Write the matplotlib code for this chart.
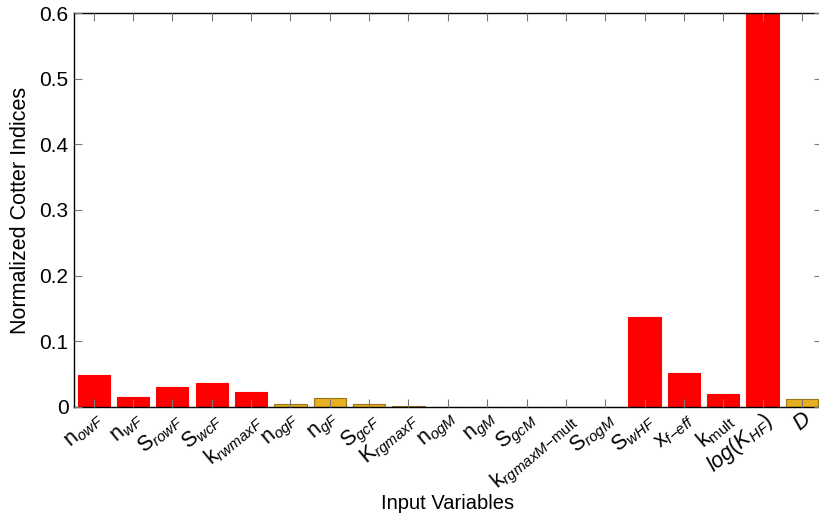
import matplotlib.pyplot as plt
import numpy as np

plt.rcParams['font.family'] = 'Liberation Sans'
plt.rcParams['mathtext.fontset'] = 'custom'
plt.rcParams['mathtext.rm'] = 'Liberation Sans'
plt.rcParams['mathtext.it'] = 'Liberation Sans:italic'

# Variables de entrada y sus índices de Cotter normalizados
etiquetas = [r'$\mathrm{n}_{owF}$', r'$\mathrm{n}_{wF}$', r'$\mathrm{S}_{rowF}$', r'$\mathrm{S}_{wcF}$',
             r'$\mathrm{k}_{rwmaxF}$', r'$\mathrm{n}_{ogF}$', r'$\mathrm{n}_{gF}$', r'$\mathrm{S}_{gcF}$',
             r'$\mathrm{K}_{rgmaxF}$', r'$\mathrm{n}_{ogM}$', r'$\mathrm{n}_{gM}$', r'$\mathrm{S}_{gcM}$',
             r'$\mathrm{k}_{rgmaxM\mathrm{-mult}}$', r'$\mathrm{S}_{rogM}$', r'$\mathrm{S}_{wHF}$',
             r'$\mathrm{x}_{f\mathrm{-}eff}$', r'$\mathrm{k}_{\mathrm{mult}}$', r'$log(K_{HF})$', r'$D$']
indices = [0.049, 0.0147, 0.031, 0.036, 0.0228, 0.0046, 0.0142, 0.0045, 0.0012,
           0.0, 0.0, 0.0, 0.0, 0.0, 0.1375, 0.0513, 0.0198, 0.72, 0.0127]
# 1 = variable influyente (rojo), 0 = poco influyente (ocre)
influyente = [1, 1, 1, 1, 1, 0, 0, 0, 0, 0, 0, 0, 0, 0, 1, 1, 1, 1, 0]

x = np.arange(len(etiquetas))
colores = ['#ff0000' if f else '#e6b020' for f in influyente]
bordes = ['#ff0000' if f else '#9a7418' for f in influyente]

fig = plt.figure(figsize=(8.2, 5.18), dpi=100)
ax = fig.add_axes([0.0902, 0.2143, 0.9118, 0.7606])
ax.bar(x, indices, width=0.82, color=colores, edgecolor=bordes, linewidth=0.8, zorder=1)

ax.set_xlim(-0.5, 18.5)
ax.set_ylim(0, 0.6)
ax.set_yticks([0, 0.1, 0.2, 0.3, 0.4, 0.5, 0.6])
ax.set_yticklabels(['0', '0.1', '0.2', '0.3', '0.4', '0.5', '0.6'], fontsize=15)
ax.set_xticks(x)
ax.set_xticklabels(etiquetas, fontsize=15.5, rotation=40, ha='right', rotation_mode='anchor')
ax.tick_params(axis='both', direction='in', top=True, right=True, length=6, width=0.8,
               color='#777777', zorder=3)
ax.tick_params(axis='x', pad=1)
ax.tick_params(axis='y', pad=4)
ax.set_axisbelow(False)
for s in ax.spines.values():
    s.set_linewidth(1.0)

ax.set_ylabel('Normalized Cotter Indices', fontsize=15.5, labelpad=6)
ax.set_xlabel('Input Variables', fontsize=14.5)
ax.xaxis.set_label_coords(0.5, -0.222)

fig.savefig('out.png', dpi=100)
